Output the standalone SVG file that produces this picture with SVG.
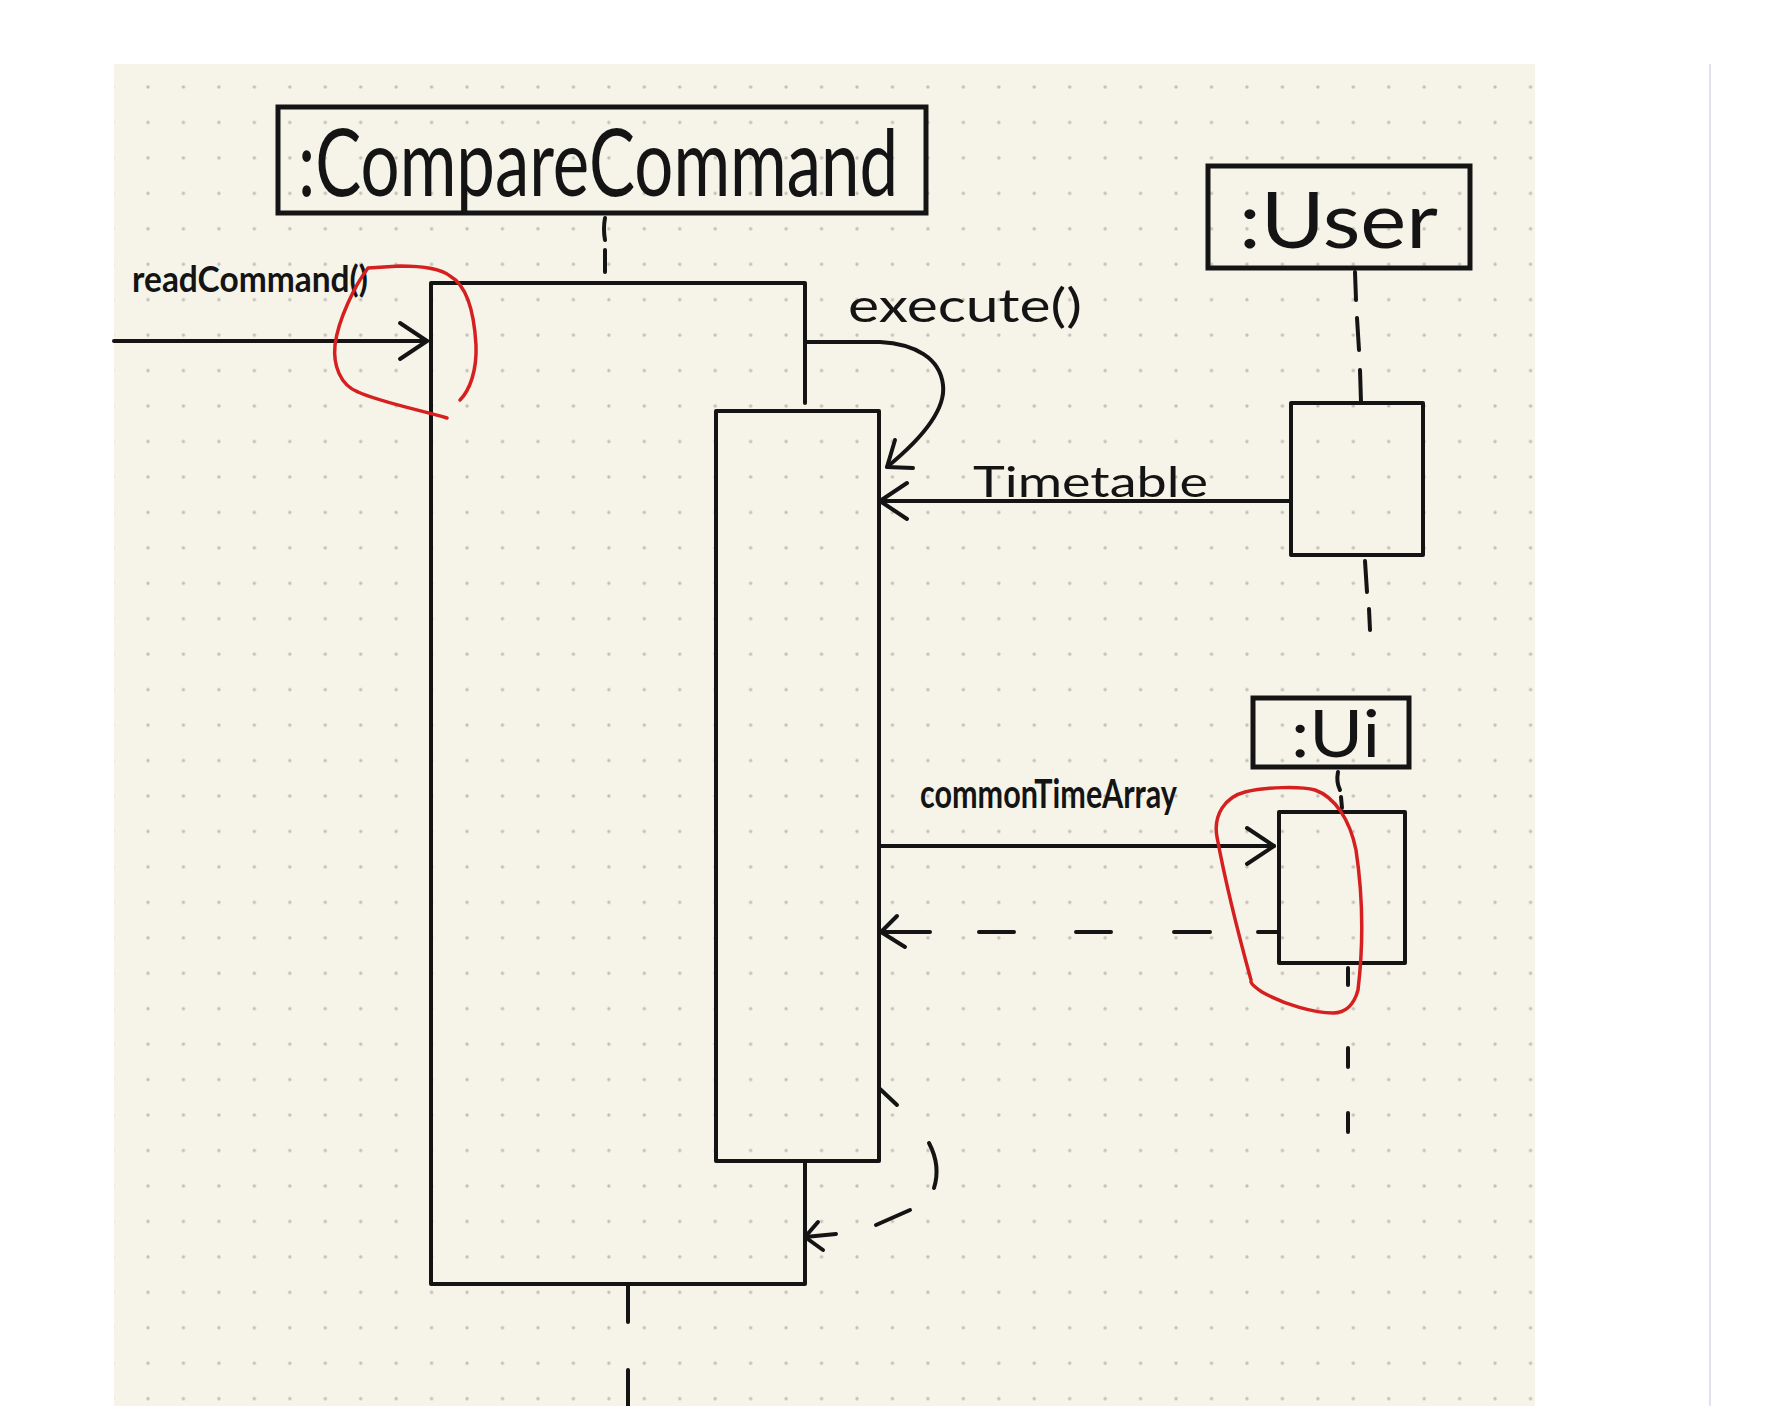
<svg xmlns="http://www.w3.org/2000/svg" width="1790" height="1406" viewBox="0 0 1790 1406">
  <style>
    .ln { fill: none; stroke: #141414; stroke-width: 4; stroke-linecap: round; stroke-linejoin: round; }
    .box { fill: none; stroke: #141414; stroke-width: 5; }
    .red { fill: none; stroke: #d61f1f; stroke-width: 3.5; stroke-linecap: round; stroke-linejoin: round; }
    .hand { font-family: Lato, "Liberation Sans", sans-serif; fill: #141414; }
    .big { font-weight: 400; }
    .bold { font-weight: 700; }
  </style>
  <defs>
    <pattern id="dots" patternUnits="userSpaceOnUse" x="130.275" y="69.275" width="35.45" height="35.45">
      <circle cx="17.725" cy="17.725" r="1.7" fill="#c2c0b6"/>
    </pattern>
    <marker id="open" markerUnits="userSpaceOnUse" viewBox="-34 -22 40 44" markerWidth="40" markerHeight="44" refX="0" refY="0" orient="auto" overflow="visible">
      <path d="M -27 -18 L 0 0 L -27 18" fill="none" stroke="#141414" stroke-width="4" stroke-linecap="round" stroke-linejoin="round"/>
    </marker>
  </defs>

  <!-- page -->
  <rect x="0" y="0" width="1790" height="1406" fill="#ffffff"/>
  <rect x="114" y="64" width="1421" height="1342" fill="#f6f4e9"/>
  <rect x="114" y="64" width="1421" height="1342" fill="url(#dots)"/>
  <line x1="1710" y1="64" x2="1710" y2="1406" stroke="#e2e2ec" stroke-width="2"/>

  <!-- nodes -->
  <g id="node-comparecommand">
    <rect class="box" x="278" y="107" width="648" height="106"/>
    <text class="hand big" x="298" y="196" font-size="93" textLength="600" lengthAdjust="spacingAndGlyphs">:CompareCommand</text>
    <path class="ln" d="M 805 403 V 283 H 431 V 1284 H 805 V 1163"/>
    <rect class="ln" x="716" y="411" width="163" height="750"/>
  </g>

  <g id="node-user">
    <rect class="box" x="1208" y="166" width="262" height="102"/>
    <text class="hand big" x="1239" y="248" font-size="77" textLength="199" lengthAdjust="spacingAndGlyphs">:User</text>
    <rect class="ln" x="1291" y="403" width="132" height="152"/>
  </g>

  <g id="node-ui">
    <rect class="box" x="1253" y="698" width="156" height="69"/>
    <text class="hand big" x="1291" y="757" font-size="65" textLength="89" lengthAdjust="spacingAndGlyphs">:Ui</text>
    <rect class="ln" x="1279" y="812" width="126" height="151"/>
  </g>

  <!-- connectors -->
  <g id="connectors">
    <!-- lifelines -->
    <path class="ln" d="M 605 218 Q 603 229 605 240 M 605 250 V 272"/>
    <path class="ln" d="M 628 1285 V 1322 M 628 1370 V 1406"/>
    <path class="ln" d="M 1355 272 L 1356 300 M 1357 318 L 1359 350 M 1360 370 L 1361 402"/>
    <path class="ln" d="M 1365 561 L 1367 592 M 1369 609 L 1370 630"/>
    <path class="ln" d="M 1338 772 Q 1336 782 1340 790 M 1341 797 L 1342 808"/>
    <path class="ln" d="M 1348 968 V 985 M 1348 1048 V 1067 M 1348 1113 V 1132"/>

    <!-- readCommand() -->
    <g id="msg-readcommand">
      <line class="ln" x1="114" y1="341" x2="427" y2="341" marker-end="url(#open)"/>
      <text class="hand bold" x="132" y="292" font-size="36" textLength="236" lengthAdjust="spacingAndGlyphs">readCommand()</text>
    </g>

    <!-- execute() self call -->
    <g id="msg-execute">
      <path class="ln" d="M 806 342 H 880 C 915 344, 940 358, 943 385 C 946 410, 920 440, 887 467"/>
      <path class="ln" d="M 895 440 L 887 467 L 913 468"/>
      <text class="hand big" x="848" y="322" font-size="46" textLength="234" lengthAdjust="spacingAndGlyphs">execute()</text>
    </g>

    <!-- Timetable -->
    <g id="msg-timetable">
      <line class="ln" x1="1289" y1="501" x2="880" y2="501" marker-end="url(#open)"/>
      <text class="hand big" x="973" y="497" font-size="43" textLength="235" lengthAdjust="spacingAndGlyphs">Timetable</text>
    </g>

    <!-- commonTimeArray -->
    <g id="msg-commontimearray">
      <line class="ln" x1="880" y1="846" x2="1274" y2="846" marker-end="url(#open)"/>
      <text class="hand bold" x="920" y="808" font-size="41" textLength="257" lengthAdjust="spacingAndGlyphs">commonTimeArray</text>
    </g>

    <!-- return from Ui (dashed) -->
    <g id="msg-return-ui">
      <path class="ln" d="M 1279 932 H 1258 M 1210 932 H 1174 M 1111 932 H 1076 M 1014 932 H 979 M 930 932 H 881"/>
      <path class="ln" d="M 897 916 L 881 932 L 905 947"/>
    </g>

    <!-- return from execute (dashed curve) -->
    <g id="msg-return-execute">
      <path class="ln" d="M 880 1089 L 897 1105"/>
      <path class="ln" d="M 929 1143 Q 941 1166 934 1188"/>
      <path class="ln" d="M 910 1210 L 876 1225"/>
      <path class="ln" d="M 836 1234 L 805 1237"/>
      <path class="ln" d="M 818 1222 L 805 1237 L 823 1250"/>
    </g>
  </g>

  <!-- red annotations -->
  <g id="annotations">
    <path class="red" d="M 460 400 C 470 390, 477 370, 476 345 C 474 310, 466 285, 450 276 C 440 268, 420 266, 400 266 L 368 268 C 355 285, 338 320, 335 345 C 333 365, 340 385, 358 392 C 380 402, 420 410, 447 418"/>
    <path class="red" d="M 1251 980 C 1240 940, 1225 880, 1217 837 C 1213 815, 1225 797, 1245 792 C 1265 787, 1300 786, 1315 790 C 1335 797, 1350 820, 1356 850 C 1362 890, 1364 940, 1358 990 C 1354 1005, 1345 1013, 1333 1013 C 1315 1013, 1285 1005, 1262 992 C 1256 988, 1252 985, 1251 982"/>
  </g>
</svg>
